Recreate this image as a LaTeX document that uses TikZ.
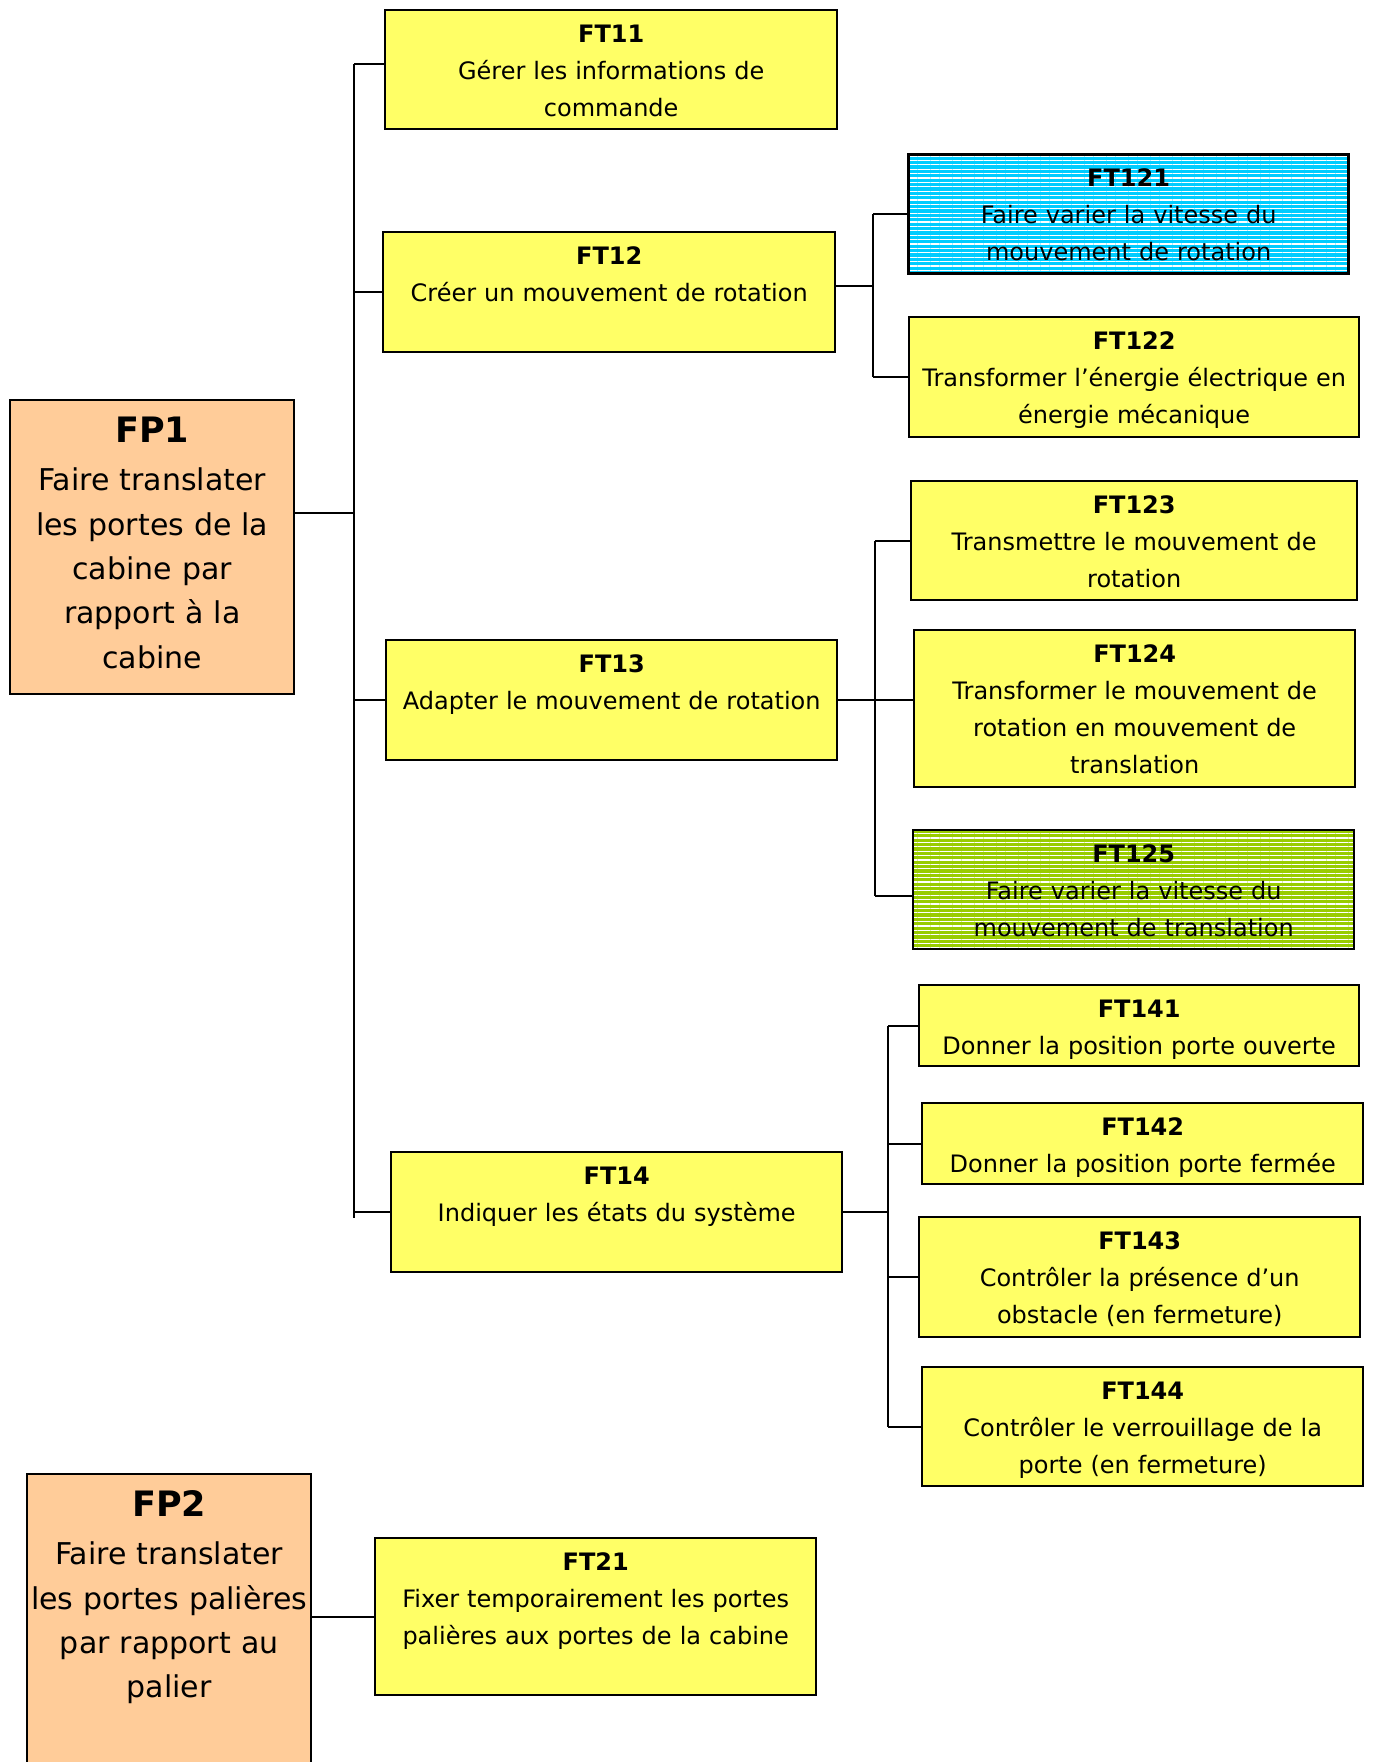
\documentclass[tikz,border=0pt]{standalone}
\usepackage{fontspec}
\setmainfont{DejaVu Sans}
\usetikzlibrary{patterns.meta}
\definecolor{ftyellow}{HTML}{FFFF66}
\definecolor{fporange}{HTML}{FFCC99}
\definecolor{ftcyan}  {HTML}{00CCFF}
\definecolor{ftgreen} {HTML}{99CC00}
\newcommand{\fttext}{\fontsize{12}{18.5}\selectfont}
\newcommand{\fptext}{\fontsize{15}{22.2}\selectfont}

\begin{document}
\begin{tikzpicture}[
  x=0.5pt, y=-0.5pt,
  ft/.style={draw, line width=1.2pt, align=center, inner sep=0pt,
             anchor=north west, text height=16pt, font=\fttext},
  boxsize/.style 2 args={text width=#1, text depth=#2},
  plain/.style={ft, fill=ftyellow},
  striped/.style={ft, preaction={fill=#1},
             pattern={Lines[distance=2.2pt, line width=0.65pt]},
             pattern color=white},
  fp/.style={ft, fill=fporange, text height=21pt, font=\fptext},
  link/.style={line width=1.1pt},
]
\useasboundingbox (0,0) rectangle (1374,1762);

% fonctions principales
\node[fp, boxsize={142pt}{126pt}] (fp1) at (9,399)
  {{\fontsize{17.5}{20}\selectfont\bfseries FP1}\\[2pt]Faire translater\\les portes de la\\cabine par\\rapport à la\\cabine};
\node[fp, boxsize={142pt}{130pt}] (fp2) at (26,1473)
  {{\fontsize{17.5}{20}\selectfont\bfseries FP2}\\[2pt]Faire translater\\les portes palières\\par rapport au\\palier};

% fonctions techniques de FP1
\node[plain, boxsize={226pt}{43.5pt}] (ft11) at (384,9)
  {\textbf{FT11}\\Gérer les informations de\\commande};
\node[plain, boxsize={226pt}{44pt}] (ft12) at (382,231)
  {\textbf{FT12}\\Créer un mouvement de rotation};
\node[plain, boxsize={225.5pt}{44pt}] (ft13) at (385,639)
  {\textbf{FT13}\\Adapter le mouvement de rotation};
\node[plain, boxsize={225.5pt}{44pt}] (ft14) at (390,1151)
  {\textbf{FT14}\\Indiquer les états du système};

\node[striped=ftcyan, boxsize={220pt}{43.5pt}] (ft121) at (908,154)
  {\textbf{FT121}\\Faire varier la vitesse du\\mouvement de rotation};
\node[plain, boxsize={225pt}{44pt}] (ft122) at (908,316)
  {\textbf{FT122}\\Transformer l’énergie électrique en\\énergie mécanique};
\node[plain, boxsize={223pt}{43.5pt}] (ft123) at (910,480)
  {\textbf{FT123}\\Transmettre le mouvement de\\rotation};
\node[plain, boxsize={220.5pt}{62.5pt}] (ft124) at (913,629)
  {\textbf{FT124}\\Transformer le mouvement de\\rotation en mouvement de\\translation};
\node[striped=ftgreen, boxsize={220.5pt}{43.5pt}] (ft125) at (912,829)
  {\textbf{FT125}\\Faire varier la vitesse du\\mouvement de translation};

\node[plain, boxsize={220pt}{24.5pt}] (ft141) at (918,984)
  {\textbf{FT141}\\Donner la position porte ouverte};
\node[plain, boxsize={220.5pt}{24.5pt}] (ft142) at (921,1102)
  {\textbf{FT142}\\Donner la position porte fermée};
\node[plain, boxsize={220.5pt}{44pt}] (ft143) at (918,1216)
  {\textbf{FT143}\\Contrôler la présence d’un\\obstacle (en fermeture)};
\node[plain, boxsize={220.5pt}{43.5pt}] (ft144) at (921,1366)
  {\textbf{FT144}\\Contrôler le verrouillage de la\\porte (en fermeture)};

% fonction technique de FP2
\node[plain, boxsize={220.5pt}{62.5pt}] (ft21) at (374,1537)
  {\textbf{FT21}\\Fixer temporairement les portes\\palières aux portes de la cabine};

% liaisons
\coordinate (trA) at (354,0);
\coordinate (trB) at (873,0);
\coordinate (trC) at (875,0);
\coordinate (trD) at (888,0);

\draw[link] ([yshift=17pt]fp1.east) -- ([yshift=17pt]trA |- fp1.east);
\draw[link] ([yshift=3pt]trA |- ft11.west) -- ([yshift=-3pt]trA |- ft14.west);
\draw[link] ([yshift=3pt]trA |- ft11.west) -- ([yshift=3pt]ft11.west);
\foreach \nd in {ft12,ft13,ft14}
  \draw[link] (trA |- \nd.west) -- (\nd.west);

\draw[link] ([yshift=3pt]ft12.east) -- ([yshift=3pt]trB |- ft12.east);
\draw[link] (trB |- ft121.west) -- (trB |- ft122.west);
\foreach \nd in {ft121,ft122}
  \draw[link] (trB |- \nd.west) -- (\nd.west);

\draw[link] (ft13.east) -- (ft124.west |- ft13.east);
\draw[link] (trC |- ft123.west) -- ([yshift=-3pt]trC |- ft125.west);
\draw[link] (trC |- ft123.west) -- (ft123.west);
\draw[link] ([yshift=-3pt]trC |- ft125.west) -- ([yshift=-3pt]ft125.west);

\draw[link] (ft14.east) -- (trD |- ft14.east);
\draw[link] (trD |- ft141.west) -- (trD |- ft144.west);
\foreach \nd in {ft141,ft142,ft143,ft144}
  \draw[link] (trD |- \nd.west) -- (\nd.west);

\draw[link] (fp2.east |- ft21.west) -- (ft21.west);
\end{tikzpicture}
\end{document}
